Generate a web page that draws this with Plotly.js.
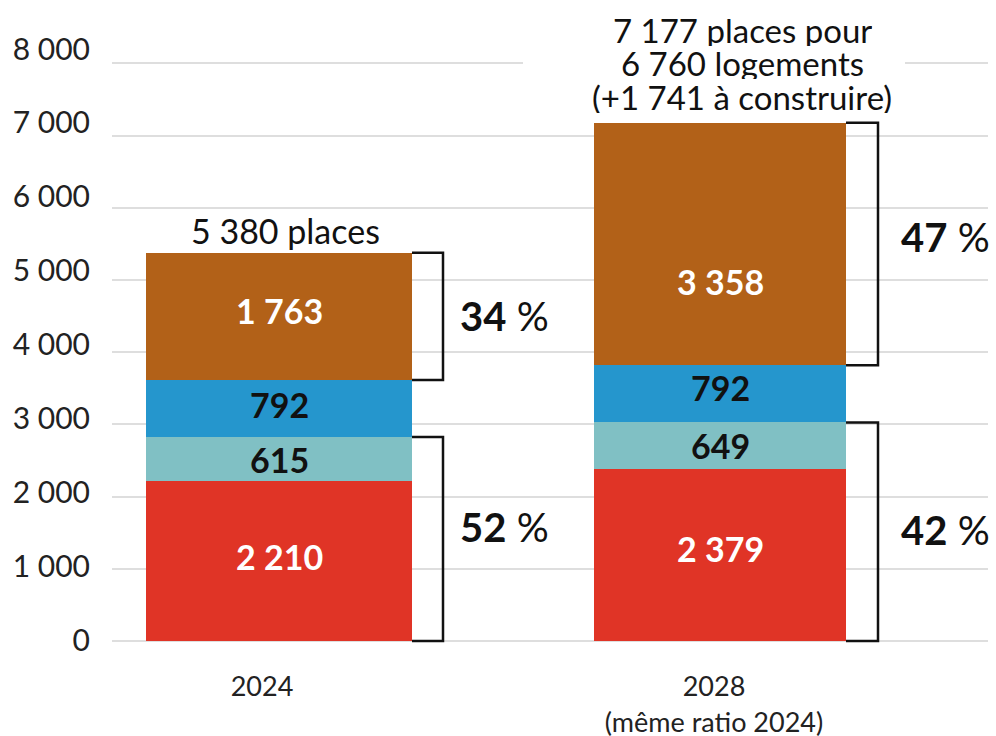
<!DOCTYPE html>
<html><head><meta charset="utf-8">
<script src="https://cdn.plot.ly/plotly-3.0.1.min.js"></script>
<style>html,body{margin:0;padding:0;background:#fff}#chart{width:996px;height:736px}</style>
</head><body><div id="chart"></div>
<script>
// ---- data ----
const years = ['2024', '2028'];
const xTickLabels = ['2024', '2028<br>(même ratio 2024)'];
const redVals = [2210, 2379];
const tealVals = [615, 649];
const blueVals = [792, 792];
const brownVals = [1763, 3358];
const total2024Label = '5 380 places';
const total2028Lines = ['7 177 places pour', '6 760 logements', '(+1 741 à construire)'];
const upperShares = ['34', '47'];
const lowerShares = ['52', '42'];
const yTickVals = [0, 1000, 2000, 3000, 4000, 5000, 6000, 7000, 8000];
const yTickText = ['0', '1 000', '2 000', '3 000', '4 000', '5 000', '6 000', '7 000', '8 000'];

// ---- layout helpers ----
const FONT = 'Lato, "Open Sans", sans-serif';
const PX = 441;                 // px per x unit
const xs = [0, 1];
const barW = [266 / PX, 252 / PX];

const series = [
  {name: 'Série 1', vals: redVals, color: '#E03426', txt: '#ffffff', dy: [5, 7]},
  {name: 'Série 2', vals: tealVals, color: '#80C0C4', txt: '#111111', dy: [0, 0]},
  {name: 'Série 3', vals: blueVals, color: '#2596CD', txt: '#111111', dy: [4, 6]},
  {name: 'Série 4', vals: brownVals, color: '#B26118', txt: '#ffffff', dy: [6, -37]}
];

const traces = series.map(s => ({
  type: 'bar', name: s.name, x: xs, y: s.vals, width: barW,
  marker: {color: s.color, line: {width: 0}},
  hoverinfo: 'skip', showlegend: false
}));
traces.push({type: 'scatter', x: [], y: [], yaxis: 'y2', showlegend: false, hoverinfo: 'skip'});

const fmt = v => String(v).replace(/\B(?=(\d{3})+(?!\d))/g, ' ');

const shapes = [];
const annotations = [];
// segment value labels
for (let i = 0; i < xs.length; i++) {
  let base = 0;
  series.forEach(s => {
    const v = s.vals[i];
    annotations.push({x: xs[i], y: base + v / 2, xref: 'x', yref: 'y', xanchor: 'center', yanchor: 'middle',
      yshift: s.dy[i], showarrow: false, text: `<b>${fmt(v)}</b>`,
      font: {family: FONT, size: 34, color: s.txt}});
    base += v;
  });
}

const armPx = [31, 32];
const pctShift = [15, 21];
const upperDy = [0, 7];
const lowerDy = [12, 2];
for (let i = 0; i < xs.length; i++) {
  const low = redVals[i] + tealVals[i];
  const mid = low + blueVals[i];
  const tot = mid + brownVals[i];
  const r = xs[i] + barW[i] / 2;
  const b = r + armPx[i] / PX;
  const line = {color: '#111111', width: 2.5};
  shapes.push({type: 'path', xref: 'x', yref: 'y', line: line,
    path: `M ${r},${tot} L ${b},${tot} L ${b},${mid} L ${r},${mid}`});
  shapes.push({type: 'path', xref: 'x', yref: 'y', line: line,
    path: `M ${r},${low} L ${b},${low} L ${b},0 L ${r},0`});
  annotations.push({x: b, y: (mid + tot) / 2, xref: 'x', yref: 'y', xanchor: 'left', yanchor: 'middle',
    xshift: pctShift[i], yshift: upperDy[i], showarrow: false, text: `<b>${upperShares[i]}</b> %`,
    font: {family: FONT, size: 40, color: '#111111'}});
  annotations.push({x: b, y: low / 2, xref: 'x', yref: 'y', xanchor: 'left', yanchor: 'middle',
    xshift: pctShift[i], yshift: lowerDy[i], showarrow: false, text: `<b>${lowerShares[i]}</b> %`,
    font: {family: FONT, size: 40, color: '#111111'}});
}
// totals above bars
const tot0 = redVals[0] + tealVals[0] + blueVals[0] + brownVals[0];
const tot1 = redVals[1] + tealVals[1] + blueVals[1] + brownVals[1];
annotations.push({x: xs[0], y: tot0, xref: 'x', yref: 'y', xanchor: 'center', yanchor: 'middle',
  xshift: 6, yshift: 22, showarrow: false, text: total2024Label,
  font: {family: FONT, size: 34, color: '#111111'}});
const lineShift = [93, 60, 26];
total2028Lines.forEach((t, k) => {
  annotations.push({x: xs[1], y: tot1, xref: 'x', yref: 'y', xanchor: 'center', yanchor: 'middle',
    xshift: 22, yshift: lineShift[k], showarrow: false, text: t, height: 32,
    font: {family: FONT, size: 33, color: '#111111'}});
});
// white cover interrupting the top gridline behind the 2028 title
shapes.push({type: 'rect', xref: 'paper', yref: 'y', x0: (523 - 112) / 876, x1: (905 - 112) / 876,
  y0: 7900, y1: 8100, fillcolor: '#ffffff', line: {width: 0}, layer: 'above'});

const layout = {
  width: 996, height: 736,
  margin: {l: 112, r: 8, t: 20, b: 93},
  paper_bgcolor: '#ffffff', plot_bgcolor: '#ffffff',
  barmode: 'stack', bargap: 0,
  separators: ', ',
  showlegend: false,
  font: {family: FONT, color: '#222222'},
  xaxis: {
    range: [-167 / PX, 709 / PX], tickmode: 'array',
    tickvals: [xs[0] - 17 / PX, xs[1] - 6 / PX], ticktext: xTickLabels,
    showgrid: false, zeroline: false, showline: false,
    ticks: 'outside', ticklen: 20, tickcolor: 'rgba(0,0,0,0)',
    tickfont: {family: FONT, size: 27, color: '#222222'}, fixedrange: true
  },
  yaxis: {
    range: [-27.7, 8602.5], tickmode: 'array', tickvals: yTickVals,
    showticklabels: false, showgrid: true, gridcolor: '#dedede', gridwidth: 2,
    zeroline: false, showline: false, ticks: '', fixedrange: true
  },
  yaxis2: {
    overlaying: 'y', side: 'left', range: [-40.6, 8392.6], tickmode: 'array',
    tickvals: yTickVals, ticktext: yTickText,
    showgrid: false, zeroline: false, showline: false,
    ticks: 'outside', ticklen: 15, tickcolor: 'rgba(0,0,0,0)',
    tickfont: {family: FONT, size: 30, color: '#222222'}, fixedrange: true
  },
  shapes: shapes,
  annotations: annotations
};

Plotly.newPlot('chart', traces, layout, {displayModeBar: false, staticPlot: true});
</script>
</body></html>
